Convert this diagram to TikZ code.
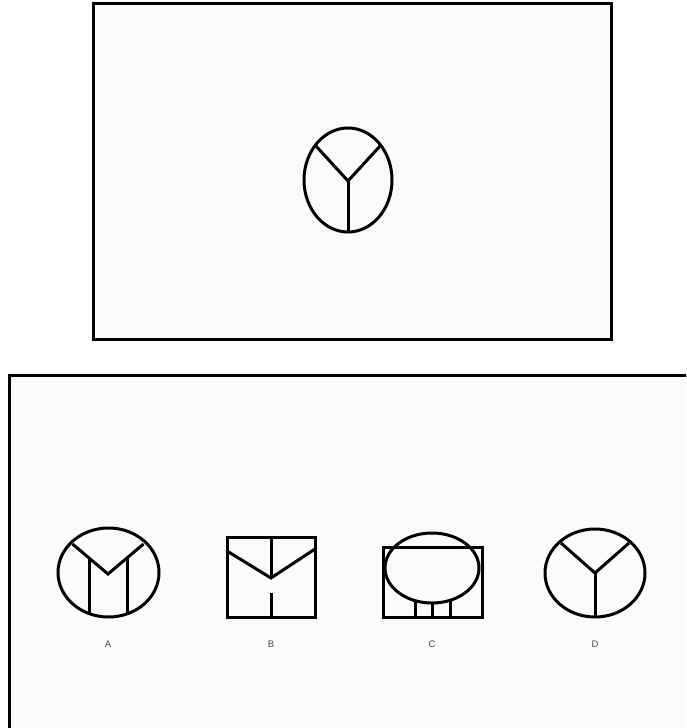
\documentclass[tikz,border=0pt]{standalone}
\usepackage{fontspec}
\setmainfont{Liberation Sans}
\definecolor{paper}{RGB}{252,250,251}
\definecolor{lbl}{RGB}{70,70,70}
\begin{document}
\begin{tikzpicture}[x=1pt,y=-1pt,
  figline/.style={line width=3pt,line join=miter},
  frame/.style={line width=2.5pt,fill=paper},
  lab/.style={font=\fontsize{9.5}{11}\selectfont,text=lbl,inner sep=0pt}]
\useasboundingbox (0,0) rectangle (686,728);
\clip (0,0) rectangle (686,728);
\fill[white] (0,0) rectangle (686,728);
% top frame
\draw[frame] (93.5,3.5) rectangle (611.5,339.5);
% bottom frame (cut off at right and bottom)
\draw[frame,line width=3pt] (9.5,740) -- (9.5,375.5) -- (700,375.5) -- (700,740) -- cycle;
% reference figure
\draw[figline] (348,180) ellipse [x radius=44,y radius=52];
\draw[figline] (315.3,145.3) -- (348,181) -- (380.7,145.3);
\draw[figline] (348,181) -- (348,232);
% A
\draw[figline] (108.5,572.5) ellipse [x radius=50.5,y radius=44.5];
\draw[figline] (72.5,544) -- (108,574) -- (143.5,544);
\draw[figline] (89,558) -- (89,613.5);
\draw[figline] (127,558) -- (127,613.5);
\node[lab] (la) at (108,644) {A};
% B
\draw[figline] (227,537) rectangle (315,617);
\draw[figline] (271,537) -- (271,578);
\draw[figline] (227,551) -- (271,578) -- (315,549);
\draw[figline] (271,593) -- (271,617);
\node[lab] (lb) at (271,644) {B};
% C
\draw[figline] (383,547) rectangle (482,617);
\draw[figline] (432,568) ellipse [x radius=47,y radius=35];
\draw[figline] (415,600) -- (415,617);
\draw[figline] (432,603) -- (432,617);
\draw[figline] (450,600) -- (450,617);
\node[lab] (lc) at (432,644) {C};
% D
\draw[figline] (595,573) ellipse [x radius=50,y radius=44];
\draw[figline] (561,543) -- (595,573) -- (629,543);
\draw[figline] (595,573) -- (595,617);
\node[lab] (ld) at (595,644) {D};
\end{tikzpicture}
\end{document}
